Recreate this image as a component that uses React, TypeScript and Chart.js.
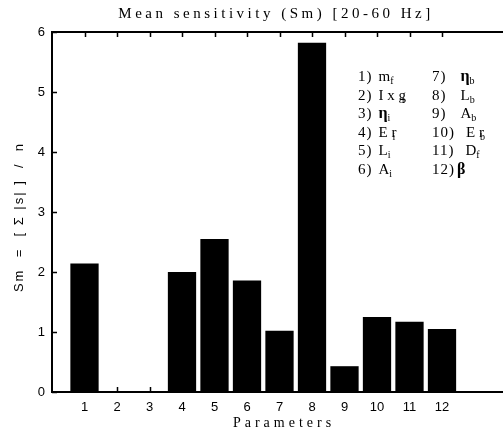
import React, { useEffect, useRef } from "react";
import { Chart, registerables } from "chart.js";

Chart.register(...registerables);

const parameters = [1, 2, 3, 4, 5, 6, 7, 8, 9, 10, 11, 12];
const sensitivity = [2.14, 0, 0, 2.0, 2.55, 1.86, 1.02, 5.82, 0.43, 1.25, 1.17, 1.05];
const yTickValues = [0, 1, 2, 3, 4, 5, 6];
const titleText = "Mean sensitivity (Sm) [20-60 Hz]";
const xLabelText = "Parameters";
const yLabelText = "Sm  =  [ Σ |s| ]  /  n";
const legendNumbers = ["1)", "2)", "3)", "4)", "5)", "6)", "7)", "8)", "9)", "10)", "11)", "12)"];
const legendMain = ["m", "I x g", "η", "E r", "L", "A", "η", "L", "A", "E r", "D", "β"];
const legendSub = ["f", "t", "i", "i", "i", "i", "b", "b", "b", "b", "f", ""];

const SERIF = '"Liberation Serif", "Times New Roman", serif';
const SANS = '"Liberation Sans", Arial, sans-serif';

const framePlugin = {
  id: "frame",
  beforeDatasetsDraw(chart: any) {
    const ctx = chart.ctx as CanvasRenderingContext2D;
    const area = chart.chartArea;
    const xs = chart.scales.x;
    const ys = chart.scales.y;
    ctx.save();
    ctx.strokeStyle = "#000";
    ctx.lineWidth = 1.5;
    ctx.beginPath();
    for (const p of parameters) {
      const px = Math.round(xs.getPixelForValue(p)) + 0.5;
      ctx.moveTo(px, area.top);
      ctx.lineTo(px, area.top + 5);
      ctx.moveTo(px, area.bottom);
      ctx.lineTo(px, area.bottom - 5);
    }
    for (const v of yTickValues) {
      const py = Math.round(ys.getPixelForValue(v)) + 0.5;
      ctx.moveTo(area.left, py);
      ctx.lineTo(area.left + 5, py);
    }
    ctx.stroke();
    ctx.restore();
  },
  afterDraw(chart: any) {
    const ctx = chart.ctx as CanvasRenderingContext2D;
    const area = chart.chartArea;
    ctx.save();
    ctx.strokeStyle = "#000";
    ctx.lineWidth = 2;
    ctx.beginPath();
    ctx.moveTo(area.left - 1, area.top);
    ctx.lineTo(chart.width, area.top);
    ctx.stroke();

    ctx.fillStyle = "#000";
    ctx.font = `15px ${SERIF}`;
    (ctx as any).letterSpacing = "3.5px";
    ctx.textAlign = "center";
    ctx.textBaseline = "middle";
    ctx.fillText(titleText, 276, 14);

    ctx.font = `14px ${SERIF}`;
    (ctx as any).letterSpacing = "4px";
    ctx.fillText(xLabelText, 284, 423);

    ctx.save();
    ctx.translate(19, 217);
    ctx.rotate(-Math.PI / 2);
    ctx.font = `13px ${SANS}`;
    (ctx as any).letterSpacing = "2px";
    ctx.fillText(yLabelText, 0, 0);
    ctx.restore();

    ctx.textAlign = "left";
    ctx.textBaseline = "alphabetic";
    for (let i = 0; i < legendNumbers.length; i++) {
      const col = i < 6 ? 0 : 1;
      const row = i % 6;
      const x = col === 0 ? 358 : 432;
      const y = 81 + row * 18.5;
      ctx.font = `15px ${SERIF}`;
      (ctx as any).letterSpacing = "1px";
      ctx.fillText(legendNumbers[i], x, y);
      const numW = ctx.measureText(legendNumbers[i]).width;
      let gap = 6;
      if (col === 1) gap = legendNumbers[i].length > 2 ? (i === 11 ? 2 : 11) : 14;
      const nx = x + numW + gap;
      const main = legendMain[i];
      const greek = main === "η" || main === "β";
      ctx.font = greek ? `bold 16px ${SERIF}` : `15px ${SERIF}`;
      (ctx as any).letterSpacing = "0px";
      ctx.fillText(main, nx, y);
      const mw = ctx.measureText(main).width;
      if (legendSub[i]) {
        ctx.font = `10px ${SERIF}`;
        const off = main.includes(" ") ? -4 : 0;
        ctx.fillText(legendSub[i], nx + mw + off, y + 3);
      }
    }
    ctx.restore();
  },
};

export default function App() {
  const canvasRef = useRef<HTMLCanvasElement | null>(null);

  useEffect(() => {
    const canvas = canvasRef.current;
    if (!canvas) return;
    const chart = new Chart(canvas, {
      type: "bar",
      data: {
        datasets: [
          {
            data: parameters.map((p, i) => ({ x: p, y: sensitivity[i] })),
            backgroundColor: "#000",
            borderWidth: 0,
            barPercentage: 0.87,
            categoryPercentage: 1,
          },
        ],
      },
      options: {
        responsive: false,
        animation: false,
        devicePixelRatio: 1,
        layout: { padding: { left: 0, top: 32, right: 13, bottom: 0 } },
        plugins: {
          legend: { display: false },
          title: { display: false },
          tooltip: { enabled: false },
        },
        scales: {
          x: {
            type: "linear",
            offset: false,
            min: 0,
            max: 14,
            grid: { display: false, drawTicks: false, offset: false },
            border: { display: true, color: "#000", width: 2 },
            ticks: {
              stepSize: 1,
              autoSkip: false,
              maxRotation: 0,
              padding: 8,
              color: "#000",
              font: { family: SANS, size: 13 },
              callback: (v: any) => (v >= 1 && v <= 12 ? String(v) : ""),
            },
            afterFit: (s: any) => {
              s.height = 44;
            },
          },
          y: {
            min: 0,
            max: 6,
            grid: { display: false, drawTicks: false },
            border: { display: true, color: "#000", width: 2 },
            ticks: {
              stepSize: 1,
              padding: 7,
              color: "#000",
              font: { family: SANS, size: 13 },
            },
            afterFit: (s: any) => {
              s.width = 52;
            },
          },
        },
      },
      plugins: [framePlugin],
    });
    return () => chart.destroy();
  }, []);

  return (
    <div style={{ position: "fixed", left: 0, top: 0, width: 520, height: 436, background: "#fff" }}>
      <canvas ref={canvasRef} width={520} height={436} style={{ display: "block" }} />
    </div>
  );
}
